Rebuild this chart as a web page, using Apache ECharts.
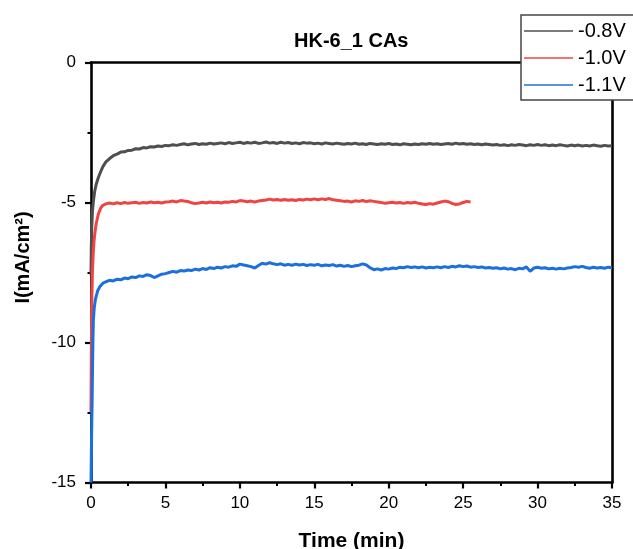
<!DOCTYPE html>
<html>
<head>
<meta charset="utf-8">
<title>HK-6_1 CAs</title>
<script src="https://cdn.jsdelivr.net/npm/echarts@6/dist/echarts.min.js"></script>
<style>
  html, body { margin: 0; padding: 0; background: #ffffff; }
  #chart { width: 633px; height: 549px; }
</style>
</head>
<body>
<div id="chart"></div>
<script>
// Chronoamperometry traces: current density (mA/cm²) vs time (min)
const seriesNames = ['-0.8V', '-1.0V', '-1.1V'];
const xTicks = [0, 5, 10, 15, 20, 25, 30, 35];
const yTicks = [-15, -10, -5, 0];

// Sampling times of the steady part (min), shared by all three traces
const plateauTimes = [
  5.25, 5.5, 5.75, 6, 6.25, 6.5, 6.75, 7,
  7.25, 7.5, 7.75, 8, 8.25, 8.5, 8.75, 9,
  9.25, 9.5, 9.75, 10, 10.25, 10.5, 10.75, 11,
  11.25, 11.5, 11.75, 12, 12.25, 12.5, 12.75, 13,
  13.25, 13.5, 13.75, 14, 14.25, 14.5, 14.75, 15,
  15.25, 15.5, 15.75, 16, 16.25, 16.5, 16.75, 17,
  17.25, 17.5, 17.75, 18, 18.25, 18.5, 18.75, 19,
  19.25, 19.5, 19.75, 20, 20.25, 20.5, 20.75, 21,
  21.25, 21.5, 21.75, 22, 22.25, 22.5, 22.75, 23,
  23.25, 23.5, 23.75, 24, 24.25, 24.5, 24.75, 25,
  25.25, 25.5, 25.75, 26, 26.25, 26.5, 26.75, 27,
  27.25, 27.5, 27.75, 28, 28.25, 28.5, 28.75, 29,
  29.25, 29.5, 29.75, 30, 30.25, 30.5, 30.75, 31,
  31.25, 31.5, 31.75, 32, 32.25, 32.5, 32.75, 33,
  33.25, 33.5, 33.75, 34, 34.25, 34.5, 34.75, 35
];

// -0.8 V : start-up transient, then steady part
const timeA = [0, 0.02, 0.05, 0.1, 0.16, 0.25, 0.35, 0.5, 0.65, 0.8, 1.0, 1.25, 1.5, 1.75, 2.0, 2.25, 2.5, 2.75, 3.0, 3.25, 3.5, 3.75, 4.0, 4.25, 4.5, 4.75, 5.0];
const currentA = [-7.6, -6.6, -5.9, -5.3, -4.95, -4.6, -4.35, -4.1, -3.9, -3.72, -3.55, -3.43, -3.33, -3.27, -3.20, -3.19, -3.14, -3.13, -3.08, -3.09, -3.04, -3.05, -3.01, -3.02, -2.98, -3.00, -2.96];
const steadyA = [
  -2.97, -2.94, -2.96, -2.93, -2.90, -2.94, -2.91, -2.89,
  -2.93, -2.90, -2.92, -2.88, -2.91, -2.89, -2.87, -2.90,
  -2.86, -2.89, -2.87, -2.85, -2.89, -2.86, -2.88, -2.85,
  -2.89, -2.87, -2.84, -2.88, -2.86, -2.89, -2.85, -2.88,
  -2.86, -2.89, -2.87, -2.90, -2.86, -2.88, -2.87, -2.90,
  -2.88, -2.91, -2.87, -2.89, -2.91, -2.88, -2.90, -2.92,
  -2.89, -2.91, -2.88, -2.92, -2.90, -2.93, -2.89, -2.91,
  -2.93, -2.90, -2.92, -2.89, -2.93, -2.91, -2.94, -2.90,
  -2.92, -2.94, -2.91, -2.93, -2.90, -2.92, -2.89, -2.92,
  -2.90, -2.93, -2.91, -2.89, -2.92, -2.88, -2.91, -2.89,
  -2.92, -2.90, -2.93, -2.91, -2.94, -2.91, -2.93, -2.95,
  -2.93, -2.96, -2.94, -2.97, -2.94, -2.96, -2.93, -2.95,
  -2.97, -2.94, -2.96, -2.93, -2.96, -2.94, -2.97, -2.95,
  -2.97, -2.94, -2.96, -2.98, -2.95, -2.97, -2.95, -2.98,
  -2.96, -2.98, -2.95, -2.97, -2.99, -2.96, -2.98, -2.97
];

// -1.0 V : recorded until about 25.5 min
const timeB = [0, 0.02, 0.05, 0.1, 0.15, 0.2, 0.27, 0.35, 0.5, 0.65, 0.8, 1.0, 1.25, 1.5, 1.75, 2.0, 2.25, 2.5, 2.75, 3.0, 3.25, 3.5, 3.75, 4.0, 4.25, 4.5, 4.75, 5.0];
const currentB = [-12.5, -10.5, -8.6, -7.4, -6.8, -6.4, -6.05, -5.75, -5.4, -5.2, -5.1, -5.05, -5.02, -5.05, -5.01, -5.04, -5.00, -5.03, -5.01, -4.99, -5.03, -5.00, -5.02, -4.98, -5.01, -4.99, -5.02, -4.98];
const steadyB = [
  -4.97, -4.95, -4.98, -4.93, -4.95, -4.96, -5.01, -5.04,
  -5.02, -4.99, -5.02, -4.98, -5.01, -4.99, -5.02, -4.98,
  -4.99, -4.96, -4.98, -4.93, -4.95, -4.97, -4.95, -4.98,
  -4.95, -4.93, -4.91, -4.88, -4.91, -4.89, -4.92, -4.89,
  -4.92, -4.90, -4.93, -4.89, -4.91, -4.88, -4.90, -4.87,
  -4.90, -4.87, -4.89, -4.86, -4.90, -4.92, -4.94, -4.96,
  -4.95, -4.98, -4.94, -4.96, -4.93, -4.97, -4.94, -4.96,
  -4.98, -5.00, -5.03, -5.01, -4.99, -5.02, -5.00, -5.03,
  -5.00, -5.02, -4.99, -5.03, -5.05, -5.07, -5.04, -5.06,
  -5.02, -4.98, -4.95, -4.97, -5.03, -5.07, -5.05, -5.00,
  -4.96, -4.98
];

// -1.1 V
const timeC = [0, 0.02, 0.04, 0.07, 0.1, 0.13, 0.16, 0.22, 0.3, 0.45, 0.6, 0.8, 1.0, 1.25, 1.5, 1.75, 2.0, 2.25, 2.5, 2.75, 3.0, 3.25, 3.5, 3.75, 4.0, 4.25, 4.5, 4.75, 5.0];
const currentC = [-15.0, -14.2, -13.3, -12.3, -11.0, -9.9, -9.2, -8.75, -8.45, -8.15, -8.0, -7.88, -7.83, -7.78, -7.80, -7.74, -7.76, -7.70, -7.72, -7.66, -7.68, -7.62, -7.64, -7.58, -7.61, -7.68, -7.62, -7.56, -7.54];
const steadyC = [
  -7.50, -7.46, -7.49, -7.43, -7.45, -7.41, -7.43, -7.38,
  -7.41, -7.36, -7.39, -7.33, -7.36, -7.31, -7.34, -7.29,
  -7.31, -7.26, -7.28, -7.20, -7.23, -7.26, -7.29, -7.34,
  -7.25, -7.17, -7.20, -7.15, -7.19, -7.22, -7.19, -7.24,
  -7.21, -7.24, -7.20, -7.23, -7.21, -7.25, -7.22, -7.24,
  -7.21, -7.26, -7.23, -7.25, -7.22, -7.27, -7.24, -7.28,
  -7.25, -7.29, -7.26, -7.24, -7.19, -7.23, -7.33, -7.40,
  -7.37, -7.41, -7.36, -7.38, -7.34, -7.36, -7.31, -7.33,
  -7.29, -7.32, -7.30, -7.33, -7.30, -7.34, -7.31, -7.33,
  -7.30, -7.33, -7.29, -7.32, -7.28, -7.30, -7.26, -7.29,
  -7.27, -7.31, -7.29, -7.32, -7.30, -7.34, -7.32, -7.35,
  -7.33, -7.37, -7.34, -7.38, -7.36, -7.40, -7.35, -7.37,
  -7.30, -7.46, -7.34, -7.31, -7.35, -7.33, -7.37, -7.35,
  -7.38, -7.35, -7.37, -7.34, -7.32, -7.29, -7.31, -7.28,
  -7.32, -7.35, -7.31, -7.34, -7.32, -7.35, -7.31, -7.33
];

const colors = ['#4f4f4f', '#ef4444', '#1c6fde'];
const FONT = '"Liberation Sans", Arial, Helvetica, sans-serif';

// join a transient part and a steady part into [time, current] pairs
function trace(t0, v0, t1, v1) {
  const out = t0.map((t, i) => [t, v0[i]]);
  v1.forEach((v, i) => out.push([t1[i], v]));
  return out;
}

const chart = echarts.init(document.getElementById('chart'), null, { renderer: 'canvas' });

const axisLineStyle = { color: '#000', width: 2.6 };

chart.setOption({
  animation: false,
  backgroundColor: '#ffffff',
  title: {
    text: 'HK-6_1 CAs',
    left: 289,
    top: 26,
    textStyle: { fontFamily: FONT, fontSize: 20, fontWeight: 'bold', color: '#000' }
  },
  legend: {
    orient: 'vertical',
    left: 521,
    top: 15,
    padding: [6, 60, 5, 3],
    icon: 'rect',
    itemWidth: 49,
    itemHeight: 1.4,
    itemGap: 7,
    backgroundColor: '#ffffff',
    borderColor: '#444',
    borderWidth: 1.5,
    borderRadius: 0,
    data: seriesNames,
    textStyle: { fontFamily: FONT, fontSize: 20, color: '#000', lineHeight: 20 }
  },
  grid: { left: 91, right: 21, top: 62.5, bottom: 66.5, containLabel: false, outerBoundsMode: 'none' },
  xAxis: [{
    type: 'value',
    min: xTicks[0],
    max: xTicks[xTicks.length - 1],
    interval: 5,
    axisLine: { show: true, onZero: false, lineStyle: axisLineStyle },
    axisTick: { show: true, inside: false, length: 6, lineStyle: { color: '#000', width: 2.2 } },
    minorTick: { show: true, splitNumber: 2, length: 3.5, lineStyle: { color: '#000', width: 2 } },
    splitLine: { show: false },
    axisLabel: { fontFamily: FONT, fontSize: 17, color: '#000', margin: 12 },
    name: 'Time (min)',
    nameLocation: 'middle',
    nameGap: 48,
    nameTextStyle: { fontFamily: FONT, fontSize: 21, fontWeight: 'bold', color: '#000' }
  }, {
    type: 'value',
    position: 'top',
    min: xTicks[0],
    max: xTicks[xTicks.length - 1],
    axisLine: { show: true, onZero: false, lineStyle: axisLineStyle },
    axisTick: { show: false },
    axisLabel: { show: false },
    splitLine: { show: false }
  }],
  yAxis: [{
    type: 'value',
    min: yTicks[0],
    max: yTicks[yTicks.length - 1],
    interval: 5,
    axisLine: { show: true, onZero: false, lineStyle: axisLineStyle },
    axisTick: { show: true, inside: false, length: 6, lineStyle: { color: '#000', width: 2.2 } },
    minorTick: { show: true, splitNumber: 2, length: 3.5, lineStyle: { color: '#000', width: 2 } },
    splitLine: { show: false },
    axisLabel: { fontFamily: FONT, fontSize: 17, color: '#000', margin: 15 },
    name: 'I(mA/cm²)',
    nameLocation: 'middle',
    nameRotate: 90,
    nameGap: 58,
    nameTextStyle: { fontFamily: FONT, fontSize: 20, fontWeight: 'bold', color: '#000', padding: [0, 0, 0, 30] }
  }, {
    type: 'value',
    position: 'right',
    min: yTicks[0],
    max: yTicks[yTicks.length - 1],
    axisLine: { show: true, onZero: false, lineStyle: axisLineStyle },
    axisTick: { show: false },
    axisLabel: { show: false },
    splitLine: { show: false }
  }],
  series: [
    { name: seriesNames[0], type: 'line', data: trace(timeA, currentA, plateauTimes, steadyA), symbol: 'none', color: colors[0],
      lineStyle: { width: 3, color: colors[0] }, z: 2 },
    { name: seriesNames[1], type: 'line', data: trace(timeB, currentB, plateauTimes, steadyB), symbol: 'none', color: colors[1],
      lineStyle: { width: 3, color: colors[1] }, z: 3 },
    { name: seriesNames[2], type: 'line', data: trace(timeC, currentC, plateauTimes, steadyC), symbol: 'none', color: colors[2],
      lineStyle: { width: 3, color: colors[2] }, z: 4 }
  ]
});
</script>
</body>
</html>
